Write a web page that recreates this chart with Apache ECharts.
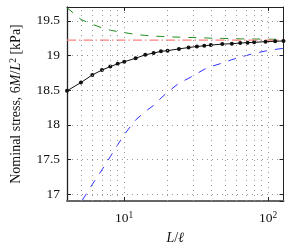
<!DOCTYPE html>
<html>
<head>
<meta charset="utf-8">
<script src="https://cdn.jsdelivr.net/npm/echarts@6/dist/echarts.min.js"></script>
<style>html,body{margin:0;padding:0;background:#fff}#c{width:289px;height:250px}</style>
</head>
<body>
<div id="c"></div>
<script>
// ---- data ----
var xs = [4,5,6,7,8,9,10,12,14,16,18,20,24,28,32,36,40,48,56,64,72,80,96,112,128];
var blackVals = [18.49,18.61,18.72,18.79,18.84,18.88,18.91,18.96,19.01,19.035,19.06,19.07,19.095,19.115,19.13,19.14,19.15,19.165,19.17,19.18,19.185,19.19,19.2,19.205,19.21];
var blueVals = [16.5,16.88,17.14,17.35,17.54,17.71,17.86,18.07,18.19,18.28,18.385,18.47,18.6,18.67,18.74,18.8,18.84,18.89,18.94,18.975,19.005,19.03,19.065,19.088,19.103];
var greenVals = [19.69,19.52,19.45,19.4,19.365,19.345,19.33,19.305,19.29,19.28,19.275,19.27,19.265,19.26,19.258,19.255,19.25,19.247,19.245,19.24,19.239,19.238,19.236,19.234,19.232];
var redX = [4,128];
var redVals = [19.222,19.222];
var minorGridX = [5,6,7,8,9,20,30,40,50,60,70,80,90];
var xMin = 4, xMax = 128, yMin = 16.9, yMax = 19.7;

function pairs(x, y){ return x.map(function(v,i){ return [v, y[i]]; }); }

var serif = 'Liberation Serif';
var chart = echarts.init(document.getElementById('c'), null, {renderer:'canvas'});
var gridDot = {type:[1,4], color:'#999', width:1};

chart.setOption({
  animation:false,
  grid:{left:62, right:5.5, top:7, bottom:47, containLabel:false},
  xAxis:[{
    type:'log', logBase:10, min:xMin, max:xMax, position:'bottom',
    axisLine:{show:true, onZero:false, lineStyle:{color:'#666', width:2}},
    axisTick:{show:true, inside:true, length:4, lineStyle:{color:'#222'}},
    splitLine:{show:true, lineStyle:gridDot},
    axisLabel:{showMinLabel:false, showMaxLabel:false, margin:9, color:'#111',
      formatter:function(v){ var p=Math.round(Math.log10(v)); return '{b|10}{s|'+p+'}'; },
      rich:{b:{fontFamily:serif,fontSize:13.5,color:'#111'}, s:{fontFamily:serif,fontSize:9.5,color:'#111',verticalAlign:'top',padding:[0,0,6,0]}}},
    name:'{i|L}{r|/}{i|ℓ}', nameLocation:'middle', nameGap:30,
    nameTextStyle:{rich:{i:{fontFamily:serif,fontStyle:'italic',fontSize:14,color:'#111'}, r:{fontFamily:serif,fontSize:14,color:'#111'}}}
  },{
    type:'log', logBase:10, min:xMin, max:xMax, position:'top',
    axisLine:{show:true, onZero:false, lineStyle:{color:'#222', width:1}},
    axisTick:{show:true, inside:true, length:4, lineStyle:{color:'#222'}},
    splitLine:{show:false}, axisLabel:{show:false}
  }],
  yAxis:[{
    type:'value', min:yMin, max:yMax, position:'left',
    axisLine:{show:true, onZero:false, lineStyle:{color:'#222', width:1.3}},
    axisTick:{show:true, inside:true, length:4, lineStyle:{color:'#222'}},
    splitLine:{show:true, lineStyle:gridDot},
    axisLabel:{showMinLabel:false, showMaxLabel:false, margin:7, fontFamily:serif, fontSize:13.5, color:'#111'},
    name:'{r|Nominal stress, 6}{i|M}{r|/}{i|L}{s|2}{r| [kPa]}', nameLocation:'middle', nameGap:43,
    nameTextStyle:{rich:{i:{fontFamily:serif,fontStyle:'italic',fontSize:14,color:'#111'}, r:{fontFamily:serif,fontSize:14,color:'#111'}, s:{fontFamily:serif,fontSize:9.5,color:'#111',verticalAlign:'top',padding:[0,0,6,0]}}}
  },{
    type:'value', min:yMin, max:yMax, position:'right',
    axisLine:{show:true, onZero:false, lineStyle:{color:'#222', width:1}},
    axisTick:{show:true, inside:true, length:4, lineStyle:{color:'#222'}},
    splitLine:{show:false}, axisLabel:{show:false}
  }],
  series:[{
    type:'line', data:pairs(xs, blueVals), showSymbol:false, symbol:'none', clip:true,
    lineStyle:{color:'#3030ff', width:1, type:[8,8]}, z:3
  },{
    type:'line', data:pairs(xs, greenVals), showSymbol:false, symbol:'none', clip:true,
    lineStyle:{color:'#1f8f1f', width:1, type:[8,8]}, z:3
  },{
    type:'line', data:pairs(redX, redVals), showSymbol:false, symbol:'none', clip:true,
    lineStyle:{color:'#ff8080', width:1.3, type:[9,3,1.5,3]}, z:3
  },{
    type:'line', data:pairs(xs, blackVals), symbol:'circle', symbolSize:4, showSymbol:true, clip:true,
    itemStyle:{color:'#111'}, lineStyle:{color:'#111', width:1}, z:4,
    markLine:{silent:true, symbol:'none', label:{show:false}, animation:false,
      lineStyle:gridDot, emphasis:{disabled:true},
      data:minorGridX.map(function(v){ return {xAxis:v}; })}
  }]
});
</script>
</body>
</html>
